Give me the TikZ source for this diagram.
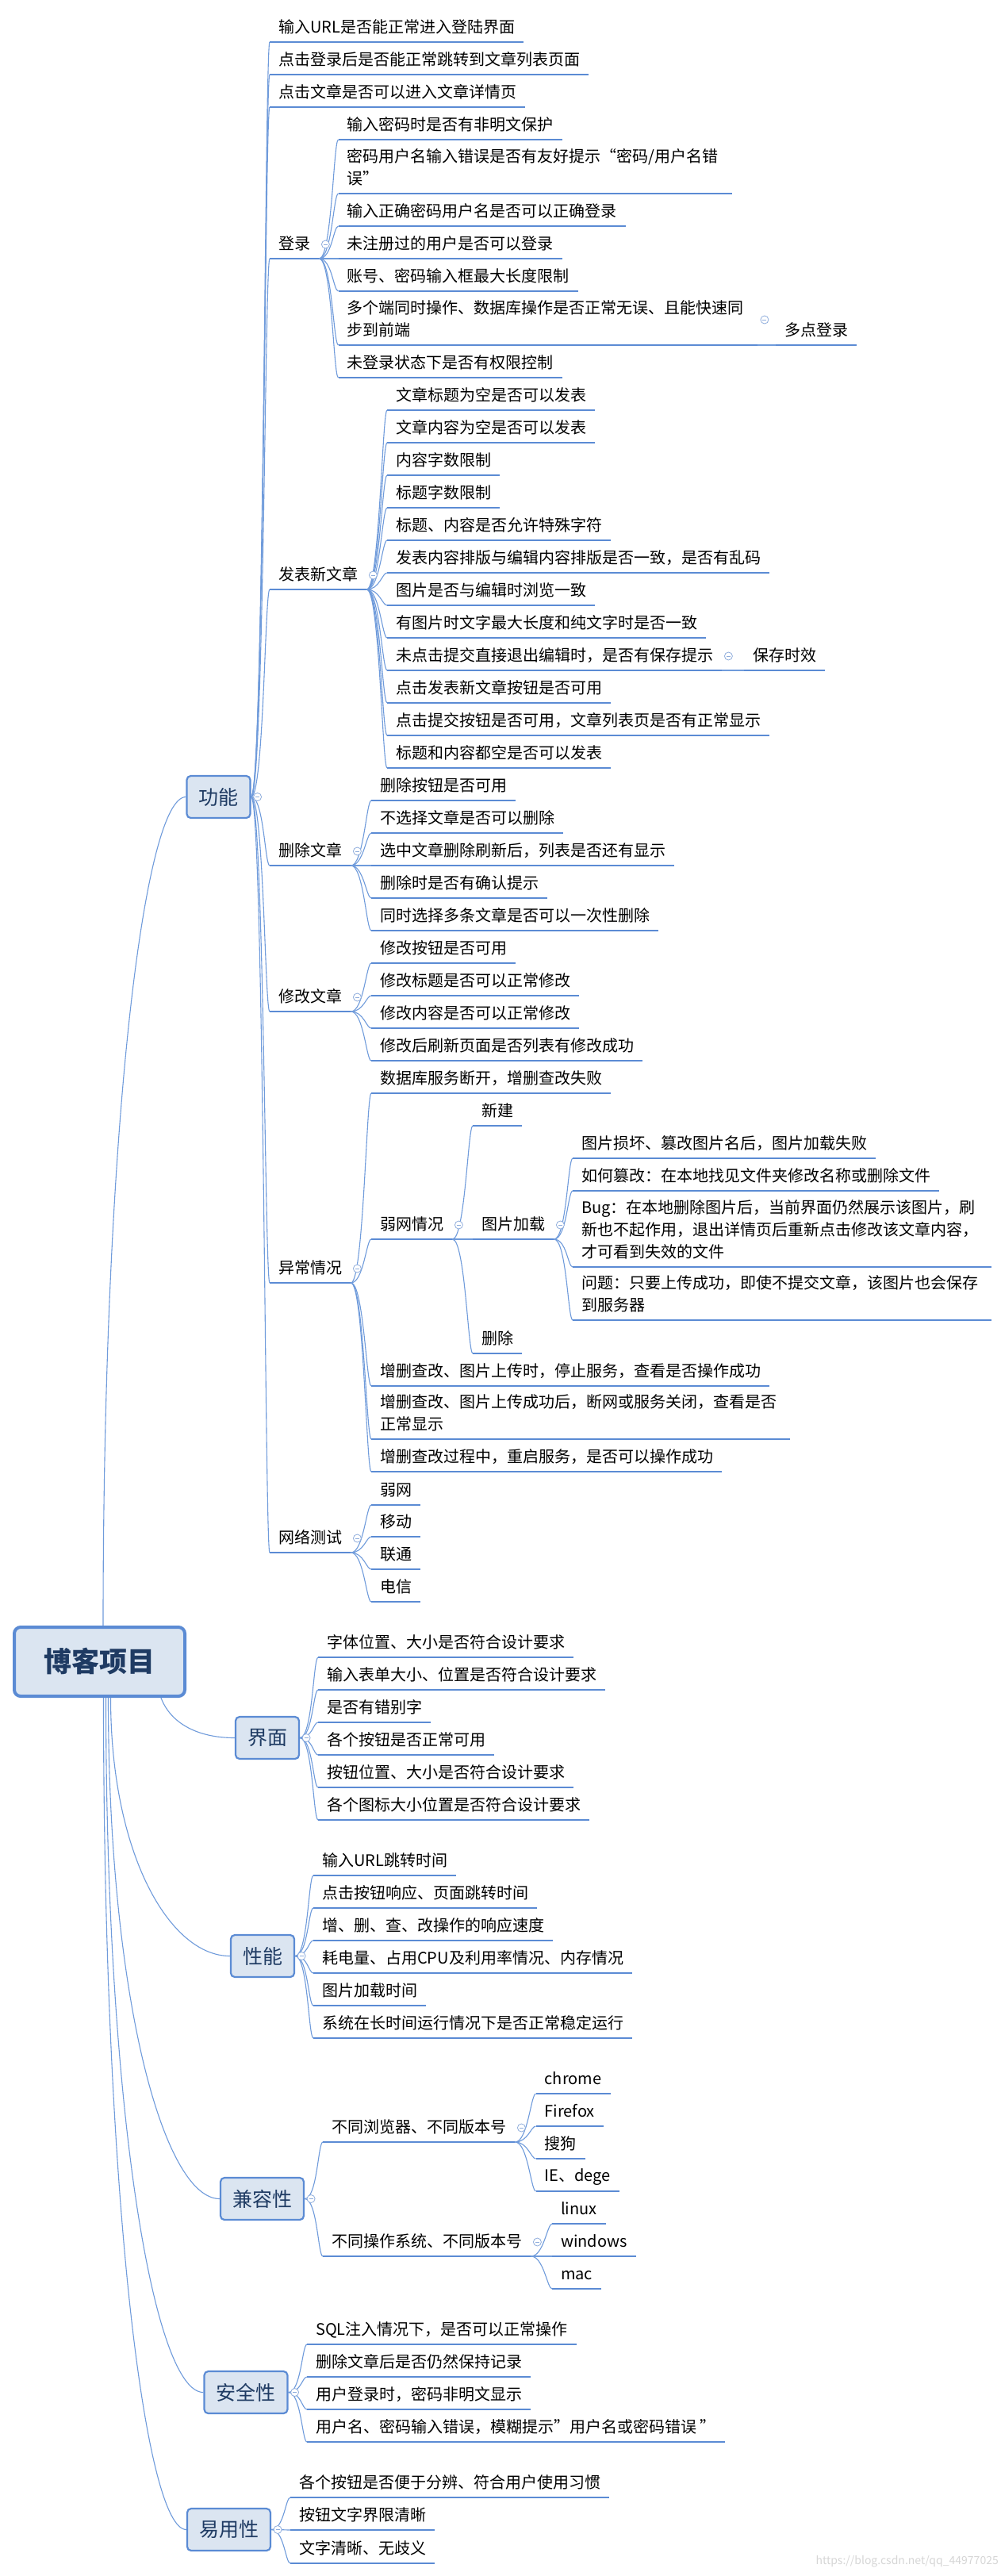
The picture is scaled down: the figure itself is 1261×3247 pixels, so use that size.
\documentclass[tikz,border=0pt]{standalone}
\usepackage{fontspec}
\setmainfont{Noto Sans CJK SC}
\usetikzlibrary{calc}
\definecolor{lineblue}{HTML}{5B8BD4}
\definecolor{thinblue}{HTML}{6F9BDB}
\definecolor{boxfill}{HTML}{DBE5F1}
\definecolor{boxtext}{HTML}{1F3B63}
\definecolor{foldc}{HTML}{8FADDC}
\newcommand{\mystrut}{\rule[-4pt]{0pt}{18pt}}
\newcommand{\leafn}[4][]{\node[leaf,#1] (#2) at (#3) {#4};\draw[uline] (#2.south west) -- (#2.south east);}
\tikzset{
  leaf/.style={anchor=south west, inner xsep=11pt, inner ysep=7pt, font=\fontsize{20}{28}\selectfont, text=black, execute at begin node={\noindent\mystrut}},
  uline/.style={draw=lineblue, line width=2.6pt},
  conn/.style={draw=thinblue, line width=1.1pt},
  br/.style={to path={.. controls +(16,0) and +(-6,0) .. (\tikztotarget)}},
  mainbox/.style={draw=lineblue, fill=boxfill, line width=2.2pt, rounded corners=5pt, font=\fontsize{25}{30}\selectfont, text=boxtext, minimum height=53pt, inner xsep=15pt, inner ysep=0pt},
  rootbox/.style={draw=lineblue, fill=boxfill, line width=4pt, rounded corners=8pt, font=\fontsize{35}{40}\selectfont\bfseries, text=boxtext, minimum width=215pt, minimum height=87pt},
  fold/.style={circle, draw=foldc, fill=white, line width=0.8pt, minimum size=10pt, inner sep=0pt,
    path picture={\draw[foldc, line width=0.8pt] ([xshift=-2.5pt]path picture bounding box.center) -- ([xshift=2.5pt]path picture bounding box.center);}},
}
\begin{document}
\begin{tikzpicture}[x=1pt,y=-1pt]
\useasboundingbox (0,0) rectangle (1261,3247);
\fill[white] (0,0) rectangle (1261,3247);

% main boxes
\node[rootbox] (root) at (125.5,2094.5) {博客项目};
\node[mainbox] (gn) at (275.5,1004.5) {功能};
\node[mainbox] (jm) at (337,2190.5) {界面};
\node[mainbox] (xn) at (331,2465.5) {性能};
\node[mainbox] (jr) at (330.5,2771.5) {兼容性};
\node[mainbox] (aq) at (310,3015.5) {安全性};
\node[mainbox] (yy) at (288.5,3188.5) {易用性};

% 功能
\leafn{f1}{340,53}{输入URL是否能正常进入登陆界面}
\leafn{f2}{340,94}{点击登录后是否能正常跳转到文章列表页面}
\leafn{f3}{340,135}{点击文章是否可以进入文章详情页}
\leafn{dl}{340,326}{登录}
\leafn{fb}{340,743}{发表新文章}
\leafn{sc}{340,1091}{删除文章}
\leafn{xg}{340,1275}{修改文章}
\leafn{yc}{340,1617}{异常情况}
\leafn{wl}{340,1957}{网络测试}

% 登录
\leafn{l1}{426.5,176}{输入密码时是否有非明文保护}
\leafn[text width=474pt,align=left]{l2}{426.5,244}{密码用户名输入错误是否有友好提示“密码/用户名错\\误”\mystrut}
\leafn{l3}{426.5,285}{输入正确密码用户名是否可以正确登录}
\leafn{l4}{426.5,326}{未注册过的用户是否可以登录}
\leafn{l5}{426.5,367}{账号、密码输入框最大长度限制}
\leafn[text width=506pt,align=left]{l6}{426.5,435}{多个端同时操作、数据库操作是否正常无误、且能快速同\\步到前端\mystrut}
\leafn{l6a}{978,435}{多点登录}
\leafn{l7}{426.5,476}{未登录状态下是否有权限控制}

% 发表新文章
\leafn{p1}{488,517}{文章标题为空是否可以发表}
\leafn{p2}{488,558}{文章内容为空是否可以发表}
\leafn{p3}{488,599}{内容字数限制}
\leafn{p4}{488,640}{标题字数限制}
\leafn{p5}{488,681}{标题、内容是否允许特殊字符}
\leafn{p6}{488,722}{发表内容排版与编辑内容排版是否一致，是否有乱码}
\leafn{p7}{488,763}{图片是否与编辑时浏览一致}
\leafn{p8}{488,804}{有图片时文字最大长度和纯文字时是否一致}
\leafn{p9}{488,845}{未点击提交直接退出编辑时，是否有保存提示}
\leafn{p9a}{938,845}{保存时效}
\leafn{p10}{488,886}{点击发表新文章按钮是否可用}
\leafn{p11}{488,927}{点击提交按钮是否可用，文章列表页是否有正常显示}
\leafn{p12}{488,968}{标题和内容都空是否可以发表}

% 删除文章
\leafn{s1}{468,1009}{删除按钮是否可用}
\leafn{s2}{468,1050}{不选择文章是否可以删除}
\leafn{s3}{468,1091}{选中文章删除刷新后，列表是否还有显示}
\leafn{s4}{468,1132}{删除时是否有确认提示}
\leafn{s5}{468,1173}{同时选择多条文章是否可以一次性删除}

% 修改文章
\leafn{m1}{468,1214}{修改按钮是否可用}
\leafn{m2}{468,1255}{修改标题是否可以正常修改}
\leafn{m3}{468,1296}{修改内容是否可以正常修改}
\leafn{m4}{468,1337}{修改后刷新页面是否列表有修改成功}

% 异常情况
\leafn{y1}{468,1378}{数据库服务断开，增删查改失败}
\leafn{y2}{468,1562}{弱网情况}
\leafn{w1}{596,1419}{新建}
\leafn{w2}{596,1562}{图片加载}
\leafn{w3}{596,1706}{删除}
\leafn{g1}{722,1460}{图片损坏、篡改图片名后，图片加载失败}
\leafn{g2}{722,1501}{如何篡改：在本地找见文件夹修改名称或删除文件}
\leafn[text width=506pt,align=left]{g3}{722,1597}{Bug：在本地删除图片后，当前界面仍然展示该图片，刷\\新也不起作用，退出详情页后重新点击修改该文章内容，\\才可看到失效的文件\mystrut}
\leafn[text width=506pt,align=left]{g4}{722,1664}{问题：只要上传成功，即使不提交文章，该图片也会保存\\到服务器\mystrut}
\leafn{y3}{468,1747}{增删查改、图片上传时，停止服务，查看是否操作成功}
\leafn[text width=506pt,align=left]{y4}{468,1814}{增删查改、图片上传成功后，断网或服务关闭，查看是否\\正常显示\mystrut}
\leafn{y5}{468,1855}{增删查改过程中，重启服务，是否可以操作成功}

% 网络测试
\leafn{n1}{468,1897}{弱网}
\leafn{n2}{468,1937}{移动}
\leafn{n3}{468,1978}{联通}
\leafn{n4}{468,2019}{电信}

% 界面
\leafn{j1}{401,2089}{字体位置、大小是否符合设计要求}
\leafn{j2}{401,2130}{输入表单大小、位置是否符合设计要求}
\leafn{j3}{401,2171}{是否有错别字}
\leafn{j4}{401,2212}{各个按钮是否正常可用}
\leafn{j5}{401,2253}{按钮位置、大小是否符合设计要求}
\leafn{j6}{401,2294}{各个图标大小位置是否符合设计要求}

% 性能
\leafn{x1}{395,2364}{输入URL跳转时间}
\leafn{x2}{395,2405}{点击按钮响应、页面跳转时间}
\leafn{x3}{395,2446}{增、删、查、改操作的响应速度}
\leafn{x4}{395,2487}{耗电量、占用CPU及利用率情况、内存情况}
\leafn{x5}{395,2528}{图片加载时间}
\leafn{x6}{395,2569}{系统在长时间运行情况下是否正常稳定运行}

% 兼容性
\leafn{b1}{407,2700}{不同浏览器、不同版本号}
\leafn{b2}{407,2844}{不同操作系统、不同版本号}
\leafn{c1}{675.5,2639}{chrome}
\leafn{c2}{675.5,2680}{Firefox}
\leafn{c3}{675.5,2721}{搜狗}
\leafn{c4}{675.5,2762}{IE、dege}
\leafn{o1}{696,2803}{linux}
\leafn{o2}{696,2844}{windows}
\leafn{o3}{696,2885}{mac}

% 安全性
\leafn{a1}{387,2955}{SQL注入情况下，是否可以正常操作}
\leafn{a2}{387,2996}{删除文章后是否仍然保持记录}
\leafn{a3}{387,3037}{用户登录时，密码非明文显示}
\leafn{a4}{387,3078}{用户名、密码输入错误，模糊提示”用户名或密码错误 ”}

% 易用性
\leafn{u1}{366,3148}{各个按钮是否便于分辨、符合用户使用习惯}
\leafn{u2}{366,3189}{按钮文字界限清晰}
\leafn{u3}{366,3231}{文字清晰、无歧义}

% root connectors
\draw[conn] ([xshift=4.5pt]root.north) .. controls +(0,-628) and +(-53,0) .. (gn.west);
\draw[conn] ([xshift=77.5pt]root.south) .. controls +(12,32) and +(-47,0) .. (jm.west);
\draw[conn] ([xshift=14pt]root.south) .. controls +(0,197) and +(-76,0) .. (xn.west);
\draw[conn] ([xshift=11pt]root.south) .. controls +(0,380) and +(-70,0) .. (jr.west);
\draw[conn] ([xshift=8pt]root.south) .. controls +(0,526) and +(-62,0) .. (aq.west);
\draw[conn] ([xshift=5pt]root.south) .. controls +(0,630) and +(-52,0) .. (yy.west);

% branch connectors
\foreach \c in {f1,f2,f3,dl,fb,sc,xg,yc,wl} \draw[conn] (gn.east) to[br] (\c.south west);
\foreach \c in {l1,l2,l3,l4,l5,l6,l7} \draw[conn] (dl.south east) to[br] (\c.south west);
\draw[conn] (l6.south east) to[br] (l6a.south west);
\foreach \c in {p1,p2,p3,p4,p5,p6,p7,p8,p9,p10,p11,p12} \draw[conn] (fb.south east) to[br] (\c.south west);
\draw[conn] (p9.south east) to[br] (p9a.south west);
\foreach \c in {s1,s2,s3,s4,s5} \draw[conn] (sc.south east) to[br] (\c.south west);
\foreach \c in {m1,m2,m3,m4} \draw[conn] (xg.south east) to[br] (\c.south west);
\foreach \c in {y1,y2,y3,y4,y5} \draw[conn] (yc.south east) to[br] (\c.south west);
\foreach \c in {w1,w2,w3} \draw[conn] (y2.south east) to[br] (\c.south west);
\foreach \c in {g1,g2,g3,g4} \draw[conn] (w2.south east) to[br] (\c.south west);
\foreach \c in {n1,n2,n3,n4} \draw[conn] (wl.south east) to[br] (\c.south west);
\foreach \c in {j1,j2,j3,j4,j5,j6} \draw[conn] (jm.east) to[br] (\c.south west);
\foreach \c in {x1,x2,x3,x4,x5,x6} \draw[conn] (xn.east) to[br] (\c.south west);
\foreach \c in {b1,b2} \draw[conn] (jr.east) to[br] (\c.south west);
\foreach \c in {c1,c2,c3,c4} \draw[conn] (b1.south east) to[br] (\c.south west);
\foreach \c in {o1,o2,o3} \draw[conn] (b2.south east) to[br] (\c.south west);
\foreach \c in {a1,a2,a3,a4} \draw[conn] (aq.east) to[br] (\c.south west);
\foreach \c in {u1,u2,u3} \draw[conn] (yy.east) to[br] (\c.south west);

% fold markers
\node[fold] (gnF) at ($(gn.east)+(8,0)$) {};
\node[fold] (jmF) at ($(jm.east)+(8,0)$) {};
\node[fold] (xnF) at ($(xn.east)+(8,0)$) {};
\node[fold] (jrF) at ($(jr.east)+(8,0)$) {};
\node[fold] (aqF) at ($(aq.east)+(8,0)$) {};
\node[fold] (yyF) at ($(yy.east)+(8,0)$) {};
\node[fold] (dlF) at ($(dl.south east)+(8,-18)$) {};
\node[fold] (l6F) at ($(l6.south east)+(9,-32)$) {};
\node[fold] (fbF) at ($(fb.south east)+(8,-18)$) {};
\node[fold] (p9F) at ($(p9.south east)+(8,-18)$) {};
\node[fold] (scF) at ($(sc.south east)+(8,-18)$) {};
\node[fold] (xgF) at ($(xg.south east)+(8,-18)$) {};
\node[fold] (ycF) at ($(yc.south east)+(8,-18)$) {};
\node[fold] (y2F) at ($(y2.south east)+(8,-18)$) {};
\node[fold] (w2F) at ($(w2.south east)+(8,-18)$) {};
\node[fold] (wlF) at ($(wl.south east)+(8,-18)$) {};
\node[fold] (b1F) at ($(b1.south east)+(8,-18)$) {};
\node[fold] (b2F) at ($(b2.south east)+(8,-18)$) {};

% watermark
\node[anchor=east, text=black!16, font=\fontsize{14}{16}\selectfont, inner sep=0pt] (wm) at (1259,3229) {https://blog.csdn.net/qq\_44977025};
\end{tikzpicture}
\end{document}
